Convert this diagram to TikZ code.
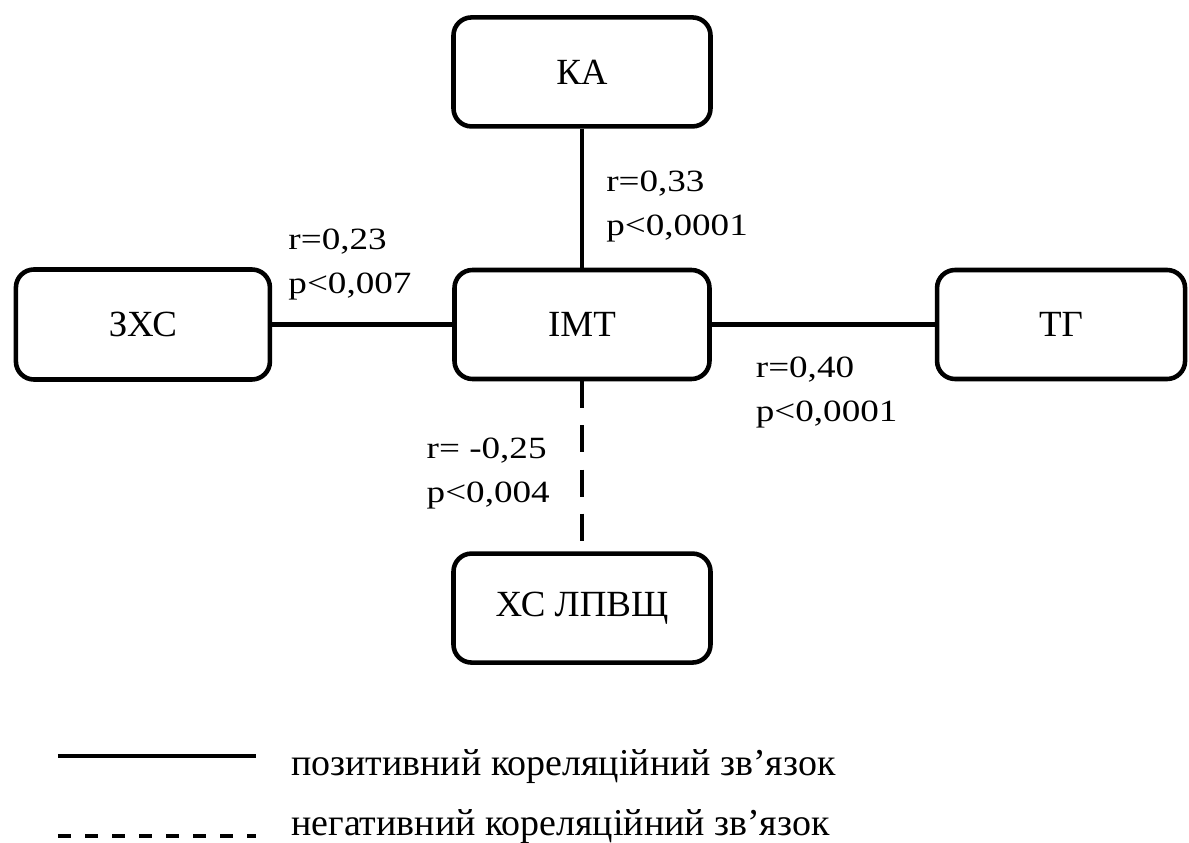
\documentclass[tikz,border=0pt]{standalone}
\usepackage{fontspec}
\setmainfont{Liberation Serif}
\newfontfamily\lblfont[FakeStretch=1.2]{Liberation Serif}
\usetikzlibrary{positioning}
\tikzset{
  box/.style={
    draw, rounded corners=0.36cm, minimum width=5.14cm, minimum height=2.18cm,
    font=\fontsize{21pt}{25pt}\selectfont
  },
  lbl/.style={inner sep=0pt, align=left, font=\lblfont\fontsize{17.6pt}{25pt}\selectfont},
  neg/.style={dash pattern=on 15.4pt off 9.7pt},
  legend/.style={inner sep=0pt, font=\fontsize{21.6pt}{26pt}\selectfont},
  node distance=2.8cm
}

\begin{document}
\begin{tikzpicture}[line width=2.6pt]
    \useasboundingbox (-11.64,-10.37) rectangle (12.14,6.49);

    \node[box, minimum width=5.1cm] (imt) {ІМТ};
    \node[box, above = 2.78cm of imt] (ka) {КА};
    \node[box, left = 3.6cm of imt, minimum width=5.08cm, minimum height=2.2cm] (zhs) {ЗХС};
    \node[box, right = 4.46cm of imt, minimum width=4.96cm] (tg) {ТГ};
    \node[box, below = 3.4cm of imt] (hs) {ХС ЛПВЩ};

    \draw (ka)    edge    node[lbl, pos=0.29, anchor=north west, xshift=0.44cm] {r=0,33\\p<0,0001}    (imt)
          (zhs)   edge    node[lbl, pos=0.1, anchor=south west, xshift=-0.08cm, yshift=0.45cm] {r=0,23\\p<0,007}    (imt)
          (imt)   edge    node[lbl, pos=0.21, anchor=north west, xshift=-0.1cm, yshift=-0.6cm] {r=0,40\\p<0,0001}    (tg)
          (imt)   edge[neg]    node[lbl, pos=0.32, anchor=north east, xshift=-0.6cm] {r= -0,25\\p<0,004}    (hs);

    % legend
    \coordinate (pa) at (-10.48,-8.63);
    \coordinate (pb) at (-6.52,-8.63);
    \coordinate (na) at (-10.48,-10.23);
    \coordinate (nb) at (-6.52,-10.23);
    \draw (pa) -- (pb);
    \draw[line width=2.8pt, dash pattern=on 7.4pt off 8pt] (na) -- (nb);
    \node[legend, anchor=base west] (posleg) at (-5.86,-9.01) {позитивний кореляційний зв’язок};
    \node[legend, anchor=base west] (negleg) at (-5.86,-10.21) {негативний кореляційний зв’язок};
  \end{tikzpicture}
\end{document}
